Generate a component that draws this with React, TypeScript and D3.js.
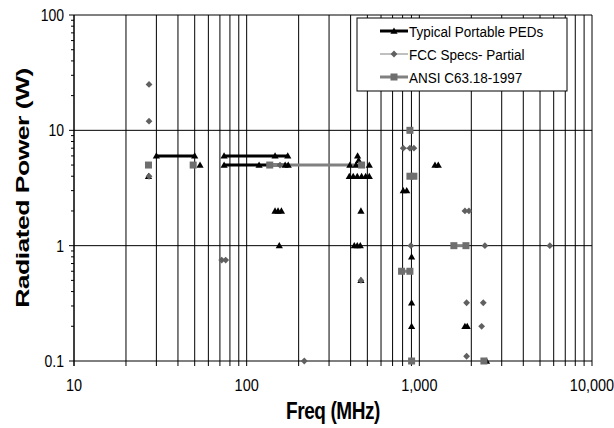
import React from "react";
import * as d3 from "d3";

// ---- data ----
const xTickLabels = ["10", "100", "1,000", "10,000"];
const xTickValues = [10, 100, 1000, 10000];
const yTickLabels = ["0.1", "1", "10", "100"];
const yTickValues = [0.1, 1, 10, 100];

const seriesNames = ["Typical Portable PEDs", "FCC Specs- Partial", "ANSI C63.18-1997"];

// Typical Portable PEDs (freq MHz, power W)
const pedPoints: [number, number][] = [
  [27, 4], [30, 6], [50, 6], [53.7, 5],
  [74, 6], [146, 6], [173, 6],
  [74, 5], [118, 5], [167, 5], [174, 5],
  [146, 2], [152, 2], [159, 2], [154.5, 1],
  [396, 5], [430, 5], [513, 5], [439, 6], [445, 5.5],
  [393, 4], [414, 4], [437, 4], [463, 4], [489, 4], [513, 4],
  [459, 2], [420, 1], [437, 1], [455, 1], [459, 0.5],
  [807, 3], [845, 3], [1232, 5], [1287, 5],
  [902, 0.8], [902, 0.32], [902, 0.2],
  [1837, 0.2], [1894, 0.2], [2450, 0.1],
];
const pedLines: [number, number][][] = [
  [[30, 6], [50, 6]],
  [[74, 6], [173, 6]],
  [[74, 5], [174, 5]],
];

// FCC Specs - Partial
const fccPoints: [number, number][] = [
  [27.2, 25], [27.2, 12], [27.2, 4],
  [71.7, 0.75], [75.6, 0.75], [156, 5], [215.6, 0.1], [459, 0.5],
  [807, 7], [882, 7], [930, 7], [893, 1],
  [1837, 2], [1937, 2], [1878, 0.32], [2346, 0.32], [2295, 0.2],
  [1878, 0.11], [2398, 1], [5700, 1],
];
const fccLines: [number, number][][] = [
  [[71.7, 0.75], [75.6, 0.75]],
  [[807, 7], [930, 7]],
  [[1837, 2], [1937, 2]],
];

// ANSI C63.18-1997
const ansiPoints: [number, number][] = [
  [27, 5], [49, 5], [136, 5], [463, 5],
  [882, 10], [882, 4], [930, 4], [789, 0.6], [882, 0.6],
  [902, 0.1], [1585, 1], [1862, 1], [2366, 0.1],
];
const ansiLines: [number, number][][] = [
  [[136, 5], [463, 5]],
  [[882, 4], [930, 4]],
  [[789, 0.6], [882, 0.6]],
  [[1585, 1], [1862, 1]],
];

// ---- layout ----
const W = 614;
const H = 428;
const left = 74;
const right = 592;
const top = 15;
const bottom = 361;
const FONT = "'Liberation Sans', Arial, sans-serif";
const STRETCH = 1.2;
const LSTRETCH = 1.1;
const TSTRETCH = 1.3;

const x = d3.scaleLog().domain([10, 10000]).range([left, right]);
const y = d3.scaleLog().domain([0.1, 100]).range([bottom, top]);

const minorX: number[] = [];
for (let e = 1; e <= 3; e++) for (let m = 1; m <= 9; m++) minorX.push(m * Math.pow(10, e));
minorX.push(10000);
const minorY: number[] = [];
for (let e = -1; e <= 1; e++) for (let m = 1; m <= 9; m++) minorY.push(m * Math.pow(10, e));
minorY.push(100);

const line = d3.line<[number, number]>().x((d) => x(d[0])).y((d) => y(d[1]));

const triPath = (cx: number, cy: number, s = 3.6) =>
  `M${cx},${cy - s}L${cx + s},${cy + s * 0.75}L${cx - s},${cy + s * 0.75}Z`;
const diaPath = (cx: number, cy: number, s = 3.4) =>
  `M${cx},${cy - s}L${cx + s},${cy}L${cx},${cy + s}L${cx - s},${cy}Z`;

export default function App() {
  const legX = 357;
  const legY = 18;
  const legW = 210;
  const legH = 73;
  const rows = [31, 54, 77];
  return (
    <svg width={W} height={H} style={{ position: "absolute", left: 0, top: 0, background: "#fff" }}>
      <rect x={0} y={0} width={W} height={H} fill="#fff" />
      {/* vertical gridlines */}
      {minorX.map((v) => (
        <line key={"gx" + v} x1={x(v)} x2={x(v)} y1={top} y2={bottom} stroke="#000" strokeWidth={1} />
      ))}
      {/* horizontal gridlines */}
      {[1, 10, 100].map((v) => (
        <line key={"gy" + v} x1={left} x2={right} y1={y(v)} y2={y(v)} stroke="#000" strokeWidth={1} />
      ))}
      {/* axes */}
      <line x1={left} x2={right} y1={bottom} y2={bottom} stroke="#000" strokeWidth={1} />
      <line x1={left} x2={left} y1={top} y2={bottom} stroke="#000" strokeWidth={1} />
      {minorX.concat([10]).map((v) => (
        <line key={"tx" + v} x1={x(v)} x2={x(v)} y1={bottom} y2={bottom + 5} stroke="#000" strokeWidth={1} />
      ))}
      {minorY.map((v) => {
        const major = yTickValues.includes(v);
        return (
          <line key={"ty" + v} x1={left - (major ? 5 : 3)} x2={left} y1={y(v)} y2={y(v)} stroke="#000" strokeWidth={1} />
        );
      })}
      {xTickValues.map((v, i) => (
        <text
          key={"lx" + v}
          transform={`translate(${x(v)},${bottom + 30}) scale(1,${STRETCH})`}
          textAnchor="middle"
          fontFamily={FONT}
          fontSize={14.5}
        >
          {xTickLabels[i]}
        </text>
      ))}
      {yTickValues.map((v, i) => (
        <text
          key={"ly" + v}
          transform={`translate(${left - 10},${y(v) + 6}) scale(1,${STRETCH})`}
          textAnchor="end"
          fontFamily={FONT}
          fontSize={14}
        >
          {yTickLabels[i]}
        </text>
      ))}
      <text
        transform={`translate(${(left + right) / 2},419) scale(1,${TSTRETCH})`}
        textAnchor="middle"
        fontFamily={FONT}
        fontSize={19}
        fontWeight="bold"
        letterSpacing={-0.4}
      >
        Freq (MHz)
      </text>
      <text
        transform={`translate(29,${(top + bottom) / 2}) rotate(-90) scale(1.4,1)`}
        textAnchor="middle"
        fontFamily={FONT}
        fontSize={19}
        fontWeight="bold"
        letterSpacing={-0.4}
      >
        Radiated Power (W)
      </text>

      {/* series lines */}
      {pedLines.map((seg, i) => (
        <path key={"pl" + i} d={line(seg) || ""} stroke="#000" strokeWidth={3} fill="none" />
      ))}
      {fccLines.map((seg, i) => (
        <path key={"fl" + i} d={line(seg) || ""} stroke="#808080" strokeWidth={1} fill="none" />
      ))}
      {ansiLines.map((seg, i) => (
        <path key={"al" + i} d={line(seg) || ""} stroke="#808080" strokeWidth={3} fill="none" />
      ))}
      {/* markers */}
      {pedPoints.map((d, i) => (
        <path key={"pm" + i} d={triPath(x(d[0]), y(d[1]))} fill="#000" />
      ))}
      {ansiPoints.map((d, i) => (
        <rect key={"am" + i} x={x(d[0]) - 3.5} y={y(d[1]) - 3.5} width={7} height={7} fill="#6e6e6e" />
      ))}
      {fccPoints.map((d, i) => (
        <path key={"fm" + i} d={diaPath(x(d[0]), y(d[1]))} fill="#606060" />
      ))}

      {/* legend */}
      <rect x={legX} y={legY} width={legW} height={legH} fill="#fff" stroke="#000" strokeWidth={1} />
      {seriesNames.map((name, i) => {
        const cy = rows[i];
        const lx1 = legX + 23;
        const lx2 = legX + 51;
        const cx = (lx1 + lx2) / 2;
        return (
          <g key={"lg" + i}>
            {i === 0 && (
              <>
                <line x1={lx1} x2={lx2} y1={cy} y2={cy} stroke="#000" strokeWidth={3} />
                <path d={triPath(cx, cy)} fill="#000" />
              </>
            )}
            {i === 1 && (
              <>
                <line x1={lx1} x2={lx2} y1={cy} y2={cy} stroke="#808080" strokeWidth={1} />
                <path d={diaPath(cx, cy)} fill="#606060" />
              </>
            )}
            {i === 2 && (
              <>
                <line x1={lx1} x2={lx2} y1={cy} y2={cy} stroke="#808080" strokeWidth={3} />
                <rect x={cx - 3.5} y={cy - 3.5} width={7} height={7} fill="#6e6e6e" />
              </>
            )}
            <text
              transform={`translate(${lx2 + 1},${cy + 5.5}) scale(1,${LSTRETCH})`}
              fontFamily={FONT}
              fontSize={13.5}
            >
              {name}
            </text>
          </g>
        );
      })}
    </svg>
  );
}
